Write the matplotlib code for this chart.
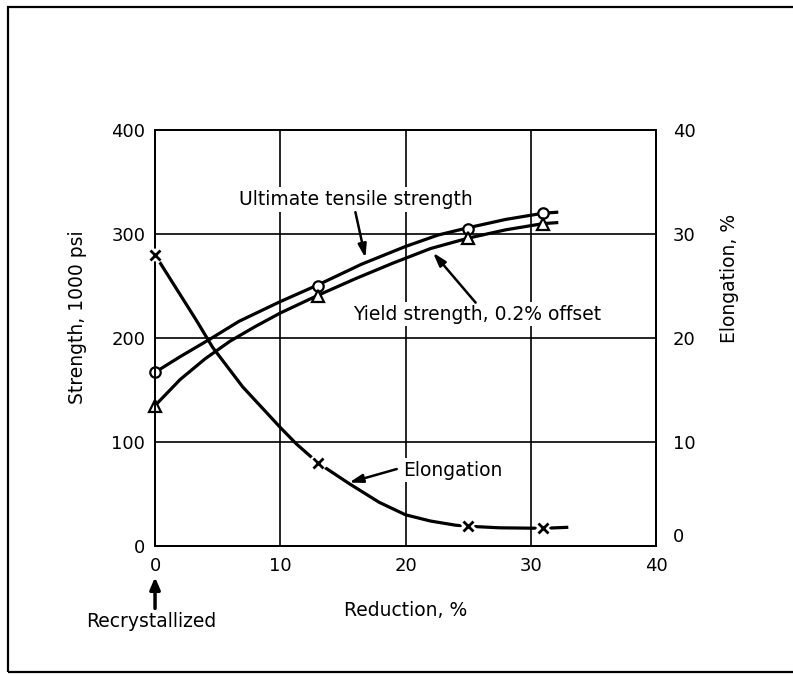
import matplotlib.pyplot as plt
from matplotlib.patches import Rectangle

plt.rcParams['font.family'] = ['DejaVu Sans']

# Measured points (reduction %, value)
reduction_pts = [0, 13, 25, 31]
uts_pts = [167, 250, 305, 320]
yield_pts = [135, 240, 296, 310]
elong_pts = [28, 8.0, 1.9, 1.7]

# Curves
uts_curve_x = [0, 2, 4.4, 6.7, 10, 13, 16.5, 20, 22.6, 25, 28, 31, 32.2]
uts_curve_y = [167, 182, 199, 216, 235, 251, 271, 288, 299, 306, 314, 320, 321]
yield_curve_x = [0, 2, 4, 6, 8, 10, 13, 16, 19, 22, 25, 28, 31, 32.2]
yield_curve_y = [135, 160, 180, 197, 211, 224, 241, 257, 272, 286, 296, 304, 310, 311]
elong_curve_x = [0, 3.3, 4.6, 7, 10, 11.3, 13, 15.5, 17.9, 20, 22, 24, 25, 27.5, 31, 33]
elong_curve_y = [28, 21.7, 19.1, 15.3, 11.4, 9.8, 8.0, 6.0, 4.2, 3.0, 2.4, 2.0, 1.9, 1.75, 1.7, 1.8]

x_ticks = [0, 10, 20, 30, 40]
strength_ticks = [0, 100, 200, 300, 400]
elong_ticks = [0, 10, 20, 30, 40]

FS = 13.5

fig = plt.figure(figsize=(7.93, 6.77), dpi=100)
ax = fig.add_axes([0.1955, 0.1935, 0.6317, 0.6145])
ax2 = ax.twinx()

lw = 2.3
ax.plot(uts_curve_x, uts_curve_y, color='black', linewidth=lw, solid_capstyle='butt')
ax.plot(yield_curve_x, yield_curve_y, color='black', linewidth=lw, solid_capstyle='butt')
ax.plot(reduction_pts, uts_pts, linestyle='none', marker='o', markersize=7.5,
        markerfacecolor='white', markeredgecolor='black', markeredgewidth=1.6, clip_on=False, zorder=5)
ax.plot(reduction_pts, yield_pts, linestyle='none', marker='^', markersize=8.5,
        markerfacecolor='white', markeredgecolor='black', markeredgewidth=1.6, clip_on=False, zorder=5)

ax2.plot(elong_curve_x, elong_curve_y, color='black', linewidth=lw, solid_capstyle='butt')
# white halo so the line breaks around each cross
ax2.plot(reduction_pts, elong_pts, linestyle='none', marker='x', markersize=9,
         markeredgecolor='white', markeredgewidth=6, clip_on=False, zorder=4)
ax2.plot(reduction_pts, elong_pts, linestyle='none', marker='x', markersize=7,
         markeredgecolor='black', markeredgewidth=2, clip_on=False, zorder=5)

ax.set_xlim(0, 40)
ax.set_ylim(0, 400)
ax2.set_ylim(0, 40)
ax.set_xticks(x_ticks)
ax.set_yticks(strength_ticks)
ax2.set_yticks(elong_ticks)
ax.grid(True, color='black', linewidth=1.2)
ax.set_axisbelow(True)

for a in (ax, ax2):
    for s in a.spines.values():
        s.set_linewidth(1.4)
    a.tick_params(length=0, labelsize=13, colors='black')
ax.tick_params(axis='y', pad=7)
ax.tick_params(axis='x', pad=8)
ax2.tick_params(axis='y', pad=12)
ax2.get_yticklabels()[0].set_verticalalignment('bottom')

ax.set_xlabel("Reduction, %", fontsize=FS)
ax.xaxis.set_label_coords(0.5, -0.154)
ax.xaxis.label.set_verticalalignment('center')
ax.set_ylabel("Strength, 1000 psi", fontsize=FS)
ax.yaxis.set_label_coords(-0.154, 0.55)
ax.yaxis.label.set_verticalalignment('center')
ax2.set_ylabel("Elongation, %", fontsize=FS)
ax2.yaxis.set_label_coords(1.146, 0.644)
ax2.yaxis.label.set_verticalalignment('center')

# labels sit on a white patch that breaks the grid lines
box = dict(facecolor='white', edgecolor='none', pad=2)
arrow = dict(arrowstyle='-|>,head_length=0.8,head_width=0.25', color='black', linewidth=1.8,
             shrinkA=0, shrinkB=0)
ax.text(16.0, 333, "Ultimate tensile strength", fontsize=FS, ha='center', va='center', bbox=box)
ax.annotate("", xy=(16.8, 277), xytext=(16.0, 321), arrowprops=arrow)
ax.text(25.7, 223, "Yield strength, 0.2% offset", fontsize=FS, ha='center', va='center', bbox=box)
ax.annotate("", xy=(22.2, 282), xytext=(25.6, 234), arrowprops=arrow)
ax.text(19.8, 73, "Elongation", fontsize=FS, ha='left', va='center', bbox=box)
ax.annotate("", xy=(15.5, 61), xytext=(19.3, 74), arrowprops=arrow)

ax.annotate("", xy=(0, -30), xytext=(0, -60), annotation_clip=False,
            arrowprops=dict(arrowstyle='-|>,head_length=0.7,head_width=0.3', color='black',
                            linewidth=2.5, shrinkA=0, shrinkB=0))
ax.text(-0.3, -73, "Recrystallized", fontsize=FS, ha='center', va='center', clip_on=False)

# outer frame of the figure
fig.patches.append(Rectangle((8 / 793, 5 / 677), 790 / 793, 665 / 677, transform=fig.transFigure,
                             fill=False, edgecolor='black', linewidth=1.6))

fig.savefig("out.png", dpi=100)
